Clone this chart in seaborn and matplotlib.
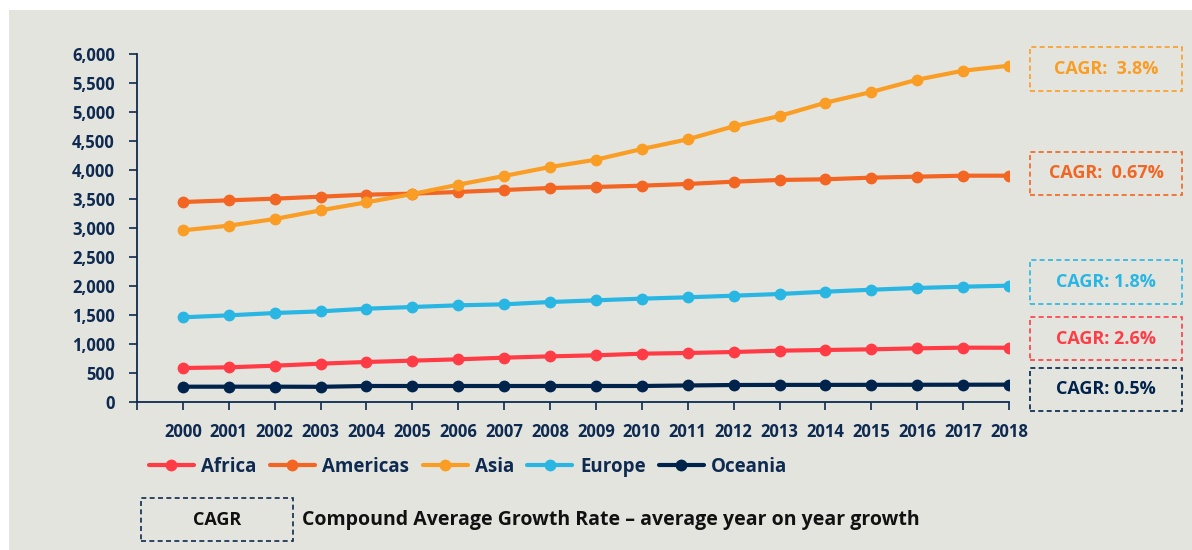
import matplotlib
matplotlib.use("Agg")
import matplotlib.pyplot as plt
from matplotlib.patches import Rectangle
import seaborn as sns
import pandas as pd

years = list(range(2000, 2019))
regions = ["Africa", "Americas", "Asia", "Europe", "Oceania"]
africa = [586, 598, 626, 661, 690, 713, 736, 764, 787, 805, 833, 845, 862, 885, 897, 908, 925, 937, 935]
americas = [3448, 3477, 3506, 3540, 3575, 3592, 3621, 3655, 3690, 3707, 3730, 3759, 3799, 3828, 3840, 3868, 3885, 3902, 3902]
asia = [2960, 3040, 3155, 3305, 3443, 3586, 3747, 3897, 4052, 4178, 4362, 4529, 4753, 4931, 5160, 5345, 5557, 5712, 5798]
europe = [1460, 1494, 1534, 1563, 1609, 1638, 1667, 1684, 1724, 1753, 1782, 1805, 1833, 1862, 1902, 1936, 1966, 1988, 2006]
oceania = [264, 264, 264, 262, 276, 276, 276, 276, 276, 276, 276, 285, 293, 295, 295, 296, 297, 298, 299]
cagr_labels = ["CAGR: 2.6%", "CAGR:  0.67%", "CAGR:  3.8%", "CAGR: 1.8%", "CAGR: 0.5%"]
colors = ["#FF3C46", "#F26522", "#F99D25", "#29B6E3", "#00234B"]

navy = "#0E2A50"
bg = "#E4E4DF"

sns.set_theme(style="white")
plt.rcParams["font.family"] = ["Open Sans", "DejaVu Sans"]
plt.rcParams["font.weight"] = "bold"

df = pd.DataFrame({
    "year": years * 5,
    "value": africa + americas + asia + europe + oceania,
    "region": sum([[r] * len(years) for r in regions], []),
})

fig = plt.figure(figsize=(11.92, 5.5), dpi=100, facecolor="white")
fig.patches.append(Rectangle((9 / 1192, 0), 1 - 9 / 1192, 1 - 10 / 550,
                             transform=fig.transFigure, facecolor=bg, edgecolor="none", zorder=-10))

ax = fig.add_axes([137 / 1192, 1 - 402 / 550, (1009 - 137) / 1192, (402 - 54) / 550])
ax.set_facecolor("none")

sns.lineplot(data=df, x="year", y="value", hue="region", hue_order=regions,
             palette=dict(zip(regions, colors)), marker="o", markersize=8.5,
             markeredgewidth=0, linewidth=3, ax=ax, legend=True)

ax.set_xlim(1999, 2018)
ax.set_ylim(0, 6000)
ax.set_xticks(list(range(1999, 2019)))
ax.set_xticklabels([""] + [str(y) for y in years])
ax.set_yticks(range(0, 6001, 500))
ax.set_yticklabels([f"{v:,}" for v in range(0, 6001, 500)])
ax.set_xlabel("")
ax.set_ylabel("")
for s in ["top", "right"]:
    ax.spines[s].set_visible(False)
for s in ["left", "bottom"]:
    ax.spines[s].set_color(navy)
    ax.spines[s].set_linewidth(1.3)
ax.tick_params(axis="both", colors=navy, length=6, width=1.2, direction="out",
               labelsize=12, bottom=True, left=True)
ax.tick_params(axis="x", pad=9)
ax.tick_params(axis="y", pad=10)
for t in ax.get_xticklabels() + ax.get_yticklabels():
    t.set_fontweight("bold")
    t.set_color(navy)

handles, labels = ax.get_legend_handles_labels()
ax.get_legend().remove()
leg = fig.legend(handles, labels, loc="center left", bbox_to_anchor=(132 / 1192, 1 - 467 / 550),
                 ncol=5, frameon=False, handlelength=2.4, columnspacing=0.7, handletextpad=0.4,
                 prop={"weight": "bold", "size": 13.5})
for t in leg.get_texts():
    t.set_color(navy)

# CAGR boxes on the right (top y, bottom y in pixels)
box_pos = {"Asia": (47, 91), "Americas": (152, 195), "Europe": (260, 304),
           "Africa": (317, 360), "Oceania": (368, 411)}
for r, c, lab in zip(regions, colors, cagr_labels):
    y0, y1 = box_pos[r]
    x0, x1 = 1030, 1182
    fig.patches.append(Rectangle((x0 / 1192, 1 - y1 / 550), (x1 - x0) / 1192, (y1 - y0) / 550,
                                 transform=fig.transFigure, facecolor="none", edgecolor=c,
                                 linestyle=(0, (3, 2)), linewidth=1.2))
    fig.text((x0 + x1) / 2 / 1192, 1 - (y0 + y1) / 2 / 550, lab, color=c, ha="center", va="center",
             fontsize=13, fontweight="bold")

# Bottom explanation
fig.patches.append(Rectangle((141 / 1192, 1 - 541 / 550), (293 - 141) / 1192, (541 - 498) / 550,
                             transform=fig.transFigure, facecolor="none", edgecolor=navy,
                             linestyle=(0, (3, 2)), linewidth=1.2))
fig.text(217 / 1192, 1 - 520 / 550, "CAGR", color="#111111", ha="center", va="center",
         fontsize=13, fontweight="bold")
fig.text(302 / 1192, 1 - 520 / 550, "Compound Average Growth Rate \u2013 average year on year growth",
         color="#111111", ha="left", va="center", fontsize=14, fontweight="bold")

fig.savefig("out.png", dpi=100, facecolor="white")
